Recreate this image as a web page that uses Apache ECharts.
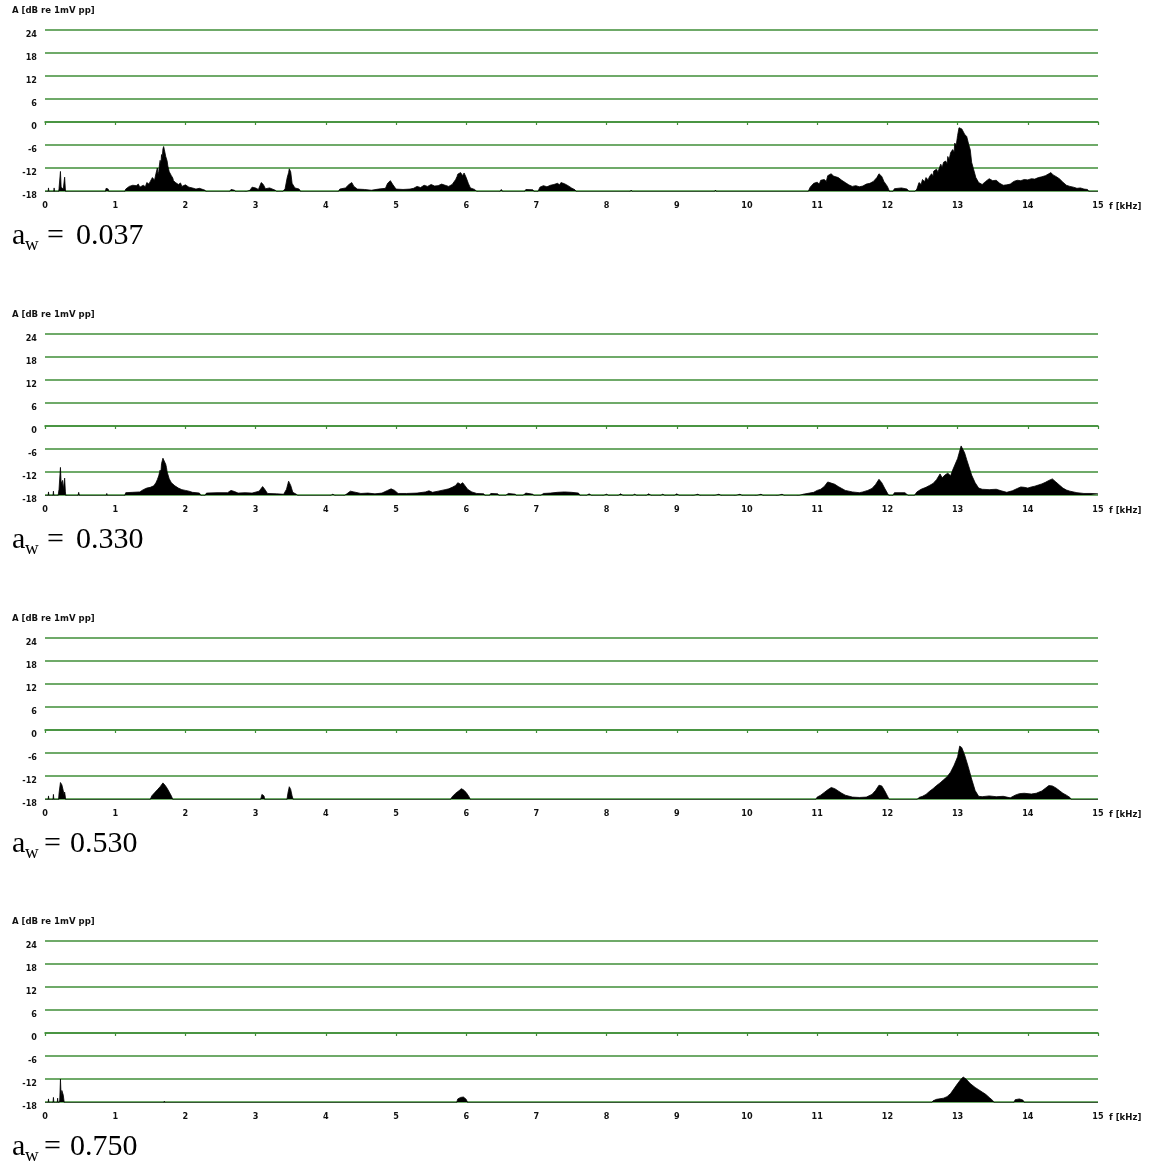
<!DOCTYPE html>
<html>
<head>
<meta charset="utf-8">
<script src="https://cdn.jsdelivr.net/npm/echarts@6/dist/echarts.min.js"></script>
<style>
html,body{margin:0;padding:0;background:#fff;}
#chart{width:1155px;height:1166px;}
</style>
</head>
<body>
<div id="chart"></div>
<script>
// ---- data ----
var awLabels = ['0.037', '0.330', '0.530', '0.750'];
var yAxisTitle = 'A [dB re 1mV pp]';
var xAxisTitle = 'f [kHz]';

// [frequency kHz, amplitude dB]; -19 = below the -18 dB display floor
var spectrumAw037 = [
[0,-19],[0.04,-19],[0.05,-17.2],[0.06,-19],[0.12,-19],[0.13,-17.2],[0.14,-19],[0.19,-19],[0.2,-17.3],[0.22,-12.9],[0.23,-17],[0.26,-17.5],[0.28,-14.4],[0.29,-17.5],[0.3,-19],
[0.85,-19],[0.87,-17.3],[0.9,-17.5],[0.92,-19],
[1.12,-19],[1.15,-17.5],[1.2,-16.8],[1.22,-17.1],[1.25,-16.5],[1.3,-16.6],[1.33,-16.2],[1.35,-17],[1.4,-16.5],[1.43,-16.9],[1.45,-15.8],[1.48,-16.2],[1.5,-15.5],[1.53,-14.5],[1.56,-15.2],[1.58,-13.5],[1.6,-12],[1.61,-13.6],[1.62,-13],[1.63,-11.2],[1.64,-10],[1.65,-11],[1.66,-8.5],[1.67,-9.2],[1.68,-7],[1.69,-6.4],[1.7,-7.2],[1.71,-7.5],[1.72,-9],[1.73,-9.5],[1.74,-10.2],[1.75,-11.5],[1.76,-11],[1.77,-13],[1.79,-12.8],[1.8,-14],[1.82,-14.6],[1.83,-15.3],[1.85,-14.9],[1.86,-15.8],[1.9,-16.3],[1.93,-15.9],[1.95,-16.8],[2.0,-16.4],[2.05,-17],[2.1,-17.2],[2.15,-17.5],[2.2,-17.3],[2.28,-17.8],[2.32,-19],
[2.6,-19],[2.65,-17.6],[2.7,-17.8],[2.75,-19],[2.92,-17.8],[2.95,-17],[3.0,-17.2],[3.04,-17.6],[3.08,-15.8],[3.11,-16.3],[3.14,-17.4],[3.2,-17.2],[3.28,-17.8],[3.35,-19],[3.42,-17.4],[3.45,-14.5],[3.47,-13.2],[3.48,-12.2],[3.5,-13],[3.52,-16],[3.56,-17.2],[3.62,-17.5],[3.67,-19],
[4.15,-19],[4.2,-17.5],[4.28,-17.2],[4.33,-16.3],[4.37,-15.8],[4.4,-16.8],[4.45,-17.5],[4.55,-17.6],[4.65,-17.8],[4.75,-17.5],[4.85,-17.3],[4.88,-16],[4.92,-15.3],[4.95,-16.2],[5.0,-17.5],[5.1,-17.6],[5.2,-17.5],[5.25,-17.3],[5.3,-16.8],[5.35,-17.1],[5.4,-16.5],[5.45,-16.8],[5.5,-16.3],[5.55,-16.7],[5.6,-16.6],[5.65,-16.2],[5.7,-16.5],[5.75,-16.8],[5.8,-16.3],[5.85,-15.0],[5.87,-14.2],[5.88,-13.6],[5.9,-14.1],[5.92,-13.2],[5.95,-14],[5.97,-13.3],[6.0,-14.5],[6.03,-16],[6.06,-17.2],[6.12,-17.6],[6.2,-19],
[6.45,-19],[6.5,-17.6],[6.55,-19],[6.8,-19],[6.85,-17.6],[6.95,-17.7],[7.0,-19],[7.05,-17],[7.1,-16.6],[7.15,-16.9],[7.2,-16.5],[7.25,-16.3],[7.3,-16.0],[7.33,-16.4],[7.35,-15.8],[7.4,-16.1],[7.45,-16.6],[7.5,-17.2],[7.55,-17.7],[7.6,-19],
[8.3,-19],[8.35,-17.8],[8.4,-19],[9.5,-19],[9.55,-17.8],[9.6,-19],
[10.85,-19],[10.9,-17],[10.95,-16],[11.0,-15.7],[11.03,-16.2],[11.05,-15.2],[11.1,-15.0],[11.13,-15.5],[11.15,-14],[11.2,-13.5],[11.23,-14.1],[11.25,-13.8],[11.3,-14.5],[11.35,-15.2],[11.4,-15.8],[11.45,-16.4],[11.5,-16.8],[11.55,-16.6],[11.6,-16.9],[11.65,-16.7],[11.7,-16.2],[11.75,-16],[11.8,-15.5],[11.85,-14.5],[11.88,-13.5],[11.92,-14.2],[11.95,-15.5],[12.0,-16.8],[12.05,-19],[12.1,-17.4],[12.2,-17.2],[12.28,-17.5],[12.35,-19],[12.42,-17.5],[12.45,-15.8],[12.48,-16.3],[12.5,-15.0],[12.53,-15.6],[12.55,-14.5],[12.58,-15.1],[12.6,-14.2],[12.63,-13.5],[12.65,-14.2],[12.66,-12.8],[12.7,-12.3],[12.72,-13.1],[12.73,-12.5],[12.76,-11.0],[12.78,-11.9],[12.8,-10.5],[12.83,-10.2],[12.85,-10.9],[12.86,-9],[12.88,-9.8],[12.9,-8],[12.93,-7.2],[12.95,-7.8],[12.96,-5.5],[12.98,-6.1],[13.0,-3.5],[13.02,-1.5],[13.04,-1.3],[13.06,-1.8],[13.08,-2],[13.1,-3.2],[13.12,-2.9],[13.13,-3.8],[13.16,-6],[13.18,-7.2],[13.2,-10.5],[13.23,-12.5],[13.26,-14.5],[13.3,-15.8],[13.35,-16.3],[13.4,-15.5],[13.45,-14.8],[13.5,-15.3],[13.55,-15.2],[13.6,-16],[13.65,-16.5],[13.7,-16.4],[13.75,-16.2],[13.8,-15.5],[13.85,-15.2],[13.9,-15.3],[13.95,-15.0],[14.0,-15.1],[14.05,-14.8],[14.1,-14.9],[14.15,-14.5],[14.2,-14.3],[14.25,-14.0],[14.3,-13.5],[14.33,-13.2],[14.36,-13.8],[14.4,-14.2],[14.45,-14.8],[14.5,-15.7],[14.55,-16.5],[14.6,-16.8],[14.65,-17],[14.7,-17.3],[14.75,-17.2],[14.8,-17.5],[14.85,-17.6],[14.9,-19],[15,-19]
];

var spectrumAw330 = [
[0,-19],[0.04,-19],[0.05,-17.2],[0.06,-19],[0.11,-19],[0.12,-17.0],[0.13,-19],[0.18,-19],[0.2,-16.5],[0.22,-10.8],[0.23,-15],[0.25,-14.2],[0.26,-16.5],[0.28,-13.6],[0.29,-17],[0.3,-19],
[0.46,-19],[0.48,-17.3],[0.5,-19],[0.86,-19],[0.88,-17.6],[0.9,-19],
[1.12,-19],[1.15,-17.4],[1.25,-17.3],[1.35,-17.2],[1.4,-16.6],[1.45,-16.2],[1.5,-16],[1.55,-15.6],[1.58,-14.8],[1.6,-14],[1.62,-13],[1.64,-11.5],[1.65,-12.2],[1.66,-9.8],[1.68,-8.4],[1.7,-8.8],[1.72,-10],[1.73,-10.8],[1.74,-12],[1.77,-13.8],[1.8,-14.8],[1.85,-15.6],[1.9,-16.2],[1.95,-16.6],[2.0,-16.8],[2.05,-17],[2.1,-17.3],[2.2,-17.5],[2.25,-19],[2.3,-17.5],[2.45,-17.4],[2.6,-17.4],[2.65,-16.8],[2.7,-17.1],[2.75,-17.5],[2.85,-17.4],[2.95,-17.5],[3.05,-17],[3.1,-15.8],[3.13,-16.5],[3.17,-17.6],[3.3,-17.7],[3.4,-17.8],[3.44,-16.5],[3.47,-14.4],[3.5,-15.5],[3.53,-17.3],[3.58,-17.8],[3.65,-19],
[4.0,-19],[4.1,-17.8],[4.2,-19],[4.3,-17.7],[4.35,-17.0],[4.4,-17.2],[4.5,-17.6],[4.6,-17.5],[4.7,-17.7],[4.8,-17.5],[4.88,-16.8],[4.93,-16.4],[4.98,-16.8],[5.03,-17.6],[5.15,-17.6],[5.3,-17.5],[5.42,-17.2],[5.47,-16.9],[5.52,-17.3],[5.6,-17.0],[5.7,-16.6],[5.75,-16.4],[5.8,-16.0],[5.85,-15.5],[5.88,-14.8],[5.92,-15.2],[5.95,-14.8],[5.98,-15.5],[6.02,-16.5],[6.08,-17.2],[6.15,-17.6],[6.25,-17.7],[6.3,-19],[6.35,-17.6],[6.45,-17.7],[6.5,-19],[6.6,-17.6],[6.7,-17.8],[6.75,-19],[6.85,-17.5],[6.95,-17.8],[7.0,-19],[7.1,-17.6],[7.2,-17.5],[7.3,-17.3],[7.4,-17.2],[7.5,-17.3],[7.6,-17.5],[7.65,-19],[7.75,-17.7],[7.85,-19],[8.0,-17.8],[8.1,-19],[8.2,-17.7],[8.3,-19],[8.4,-17.8],[8.5,-19],[8.6,-17.7],[8.7,-19],[8.8,-17.8],[8.9,-19],[9.0,-17.7],[9.1,-19],[9.3,-17.8],[9.4,-19],[9.6,-17.8],[9.7,-19],[9.9,-17.8],[10.0,-19],[10.2,-17.8],[10.3,-19],[10.5,-17.8],[10.6,-19],[10.8,-17.8],
[10.95,-17.3],[11.0,-16.8],[11.05,-16.5],[11.1,-15.8],[11.15,-14.6],[11.2,-14.9],[11.25,-15.2],[11.3,-15.8],[11.35,-16.3],[11.4,-16.8],[11.5,-17.2],[11.6,-17.4],[11.65,-17.2],[11.72,-16.8],[11.78,-16.3],[11.83,-15.3],[11.88,-13.9],[11.92,-14.8],[11.96,-16.2],[12.0,-17.5],[12.05,-19],[12.1,-17.4],[12.25,-17.4],[12.35,-19],[12.42,-17.2],[12.48,-16.5],[12.55,-16],[12.6,-15.5],[12.65,-15],[12.7,-14],[12.75,-12.5],[12.78,-13.5],[12.82,-12.8],[12.86,-12.3],[12.9,-13],[12.93,-11.5],[12.96,-10.2],[13.0,-8.5],[13.03,-6.5],[13.05,-5.2],[13.07,-5.6],[13.1,-7.0],[13.13,-8.8],[13.16,-10.5],[13.2,-12.8],[13.25,-14.8],[13.3,-16.2],[13.35,-16.5],[13.45,-16.6],[13.55,-16.5],[13.62,-16.9],[13.7,-17.3],[13.78,-16.9],[13.85,-16.3],[13.9,-15.9],[13.95,-16],[14.0,-16.2],[14.05,-15.9],[14.1,-15.7],[14.15,-15.4],[14.2,-15.1],[14.25,-14.7],[14.3,-14.2],[14.35,-13.8],[14.4,-14.6],[14.45,-15.4],[14.5,-16.2],[14.55,-16.7],[14.6,-17],[14.7,-17.4],[14.8,-17.6],[14.9,-17.6],[15,-17.7]
];

var spectrumAw530 = [
[0,-19],[0.04,-19],[0.05,-17.2],[0.06,-19],[0.11,-19],[0.12,-16.8],[0.13,-19],[0.19,-19],[0.2,-16.5],[0.22,-13.7],[0.24,-14.3],[0.26,-15.8],[0.27,-16.8],[0.28,-16.2],[0.29,-17.5],[0.3,-19],
[1.48,-19],[1.52,-17.2],[1.56,-16.4],[1.6,-15.6],[1.64,-14.8],[1.68,-13.8],[1.71,-14.4],[1.74,-15.2],[1.77,-16.2],[1.8,-17.2],[1.84,-19],
[3.06,-19],[3.09,-16.8],[3.12,-17.2],[3.14,-19],[3.44,-19],[3.46,-16.5],[3.48,-14.8],[3.5,-15.5],[3.52,-17.2],[3.55,-19],
[5.75,-19],[5.8,-17.4],[5.85,-16.5],[5.9,-15.8],[5.93,-15.3],[5.96,-15.6],[6.0,-16.3],[6.04,-17.4],[6.08,-19],
[10.95,-19],[11.0,-17.5],[11.05,-17.0],[11.1,-16.3],[11.15,-15.6],[11.2,-15.0],[11.25,-15.3],[11.3,-15.9],[11.35,-16.5],[11.4,-17],[11.5,-17.5],[11.6,-17.6],[11.7,-17.5],[11.78,-16.8],[11.83,-15.8],[11.88,-14.4],[11.92,-14.6],[11.96,-15.8],[12.0,-17.2],[12.05,-19],
[12.38,-19],[12.45,-17.6],[12.5,-17.3],[12.55,-16.8],[12.6,-16.0],[12.65,-15.3],[12.7,-14.5],[12.75,-13.8],[12.8,-13.0],[12.85,-12.2],[12.9,-11.0],[12.95,-9.2],[13.0,-7.0],[13.03,-4.2],[13.06,-4.6],[13.1,-6.5],[13.15,-9.5],[13.2,-12.8],[13.25,-15.8],[13.3,-17.3],[13.35,-17.4],[13.45,-17.2],[13.55,-17.4],[13.65,-17.3],[13.75,-17.7],[13.82,-17.0],[13.88,-16.6],[13.95,-16.5],[14.05,-16.7],[14.12,-16.5],[14.2,-15.9],[14.25,-15.2],[14.3,-14.5],[14.35,-14.6],[14.4,-15.1],[14.45,-15.8],[14.5,-16.5],[14.55,-17],[14.6,-17.6],[14.65,-19],[15,-19]
];

var spectrumAw750 = [
[0,-19],[0.04,-19],[0.05,-17.2],[0.06,-19],[0.11,-19],[0.12,-16.8],[0.13,-19],[0.17,-19],[0.18,-17],[0.19,-19],[0.21,-17.5],[0.22,-12],[0.23,-16.5],[0.24,-15],[0.26,-16.2],[0.27,-16.5],[0.28,-19],
[1.68,-19],[1.7,-17.8],[1.72,-19],
[5.85,-19],[5.88,-17.2],[5.92,-16.8],[5.96,-16.7],[6.0,-17.3],[6.04,-19],
[12.6,-19],[12.65,-17.7],[12.7,-17.3],[12.8,-17.0],[12.85,-16.6],[12.9,-15.8],[12.95,-14.5],[13.0,-13.2],[13.05,-12.0],[13.08,-11.5],[13.12,-12.0],[13.18,-13.2],[13.25,-14.2],[13.3,-14.8],[13.35,-15.4],[13.4,-16.0],[13.45,-16.8],[13.5,-17.6],[13.55,-19],
[13.78,-19],[13.82,-17.4],[13.88,-17.2],[13.93,-17.5],[13.98,-19],[15,-19]
];

var spectra = [spectrumAw037, spectrumAw330, spectrumAw530, spectrumAw750];

(function () {
  var GREEN = '#3f8e37';
  var panelTops = [30, 334, 638, 941];
  var panelH = 161;
  var tickFont = "Liberation Sans Narrow, DejaVu Sans Condensed, Liberation Sans, sans-serif";
  var serif = "Liberation Serif, DejaVu Serif, serif";
  var eqX = [47, 47, 44, 44];
  var numX = [76, 76, 70, 70];

  var grids = [], xAxes = [], yAxes = [], series = [], graphics = [];
  for (var i = 0; i < 4; i++) {
    var pTop = panelTops[i];
    grids.push({left: 45, right: 57, top: pTop, height: panelH});
    xAxes.push({
      type: 'value', gridIndex: i, min: 0, max: 15, interval: 1, z: 5,
      axisLine: {show: true, lineStyle: {color: GREEN, width: 1.6}},
      axisTick: {show: true, length: 3, lineStyle: {color: GREEN, width: 1.2}},
      splitLine: {show: false},
      axisLabel: {color: '#111', fontSize: 9, fontWeight: 'bold', fontFamily: tickFont, margin: 10}
    });
    yAxes.push({
      type: 'value', gridIndex: i, min: -18, max: 24, interval: 6,
      axisLine: {show: false}, axisTick: {show: false},
      splitLine: {show: true, lineStyle: {color: GREEN, width: 1.6}},
      axisLabel: {color: '#111', fontSize: 9, fontWeight: 'bold', fontFamily: tickFont, margin: 8, verticalAlign: 'top'}
    });
    series.push({
      type: 'line', xAxisIndex: i, yAxisIndex: i, data: spectra[i],
      symbol: 'none', smooth: false, z: 2, clip: true,
      lineStyle: {color: '#000', width: 0.8},
      areaStyle: {color: '#000', opacity: 1, origin: 'start'}
    });
    graphics.push({type: 'text', left: 12, top: pTop - 24,
      style: {text: yAxisTitle, font: 'bold 9.5px ' + tickFont, fill: '#111'}});
    graphics.push({type: 'text', left: 1109, top: pTop + panelH + 11,
      style: {text: xAxisTitle, font: 'bold 9.5px ' + tickFont, fill: '#111'}});
    var tTop = pTop + 191;
    graphics.push({type: 'text', left: 12, top: tTop, style: {text: 'a', font: '30px ' + serif, fill: '#000'}});
    graphics.push({type: 'text', left: 25, top: tTop + 15, style: {text: 'w', font: '19px ' + serif, fill: '#000'}});
    graphics.push({type: 'text', left: eqX[i], top: tTop, style: {text: '=', font: '30px ' + serif, fill: '#000'}});
    graphics.push({type: 'text', left: numX[i], top: tTop, style: {text: awLabels[i], font: '30px ' + serif, fill: '#000'}});
  }

  var chart = echarts.init(document.getElementById('chart'));
  chart.setOption({
    backgroundColor: '#fff',
    animation: false,
    grid: grids, xAxis: xAxes, yAxis: yAxes, series: series, graphic: graphics
  });
})();
</script>
</body>
</html>
